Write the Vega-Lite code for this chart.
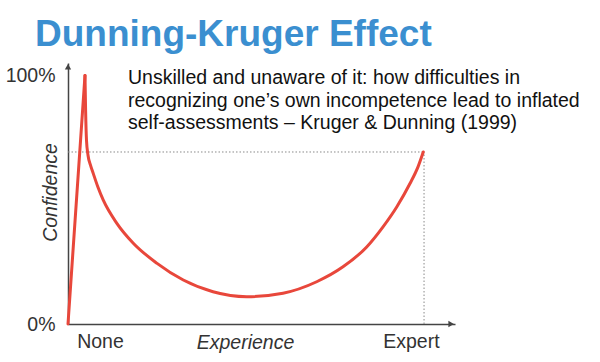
{
  "$schema": "https://vega.github.io/schema/vega-lite/v6.json",
  "width": 387,
  "height": 261,
  "autosize": {"type": "none"},
  "padding": {"left": 68, "top": 63, "right": 145, "bottom": 38},
  "background": "white",
  "config": {"view": {"stroke": null}, "font": "Liberation Sans"},
  "title": {
    "text": "Dunning-Kruger Effect",
    "font": "Liberation Sans",
    "fontSize": 37,
    "fontWeight": "bold",
    "color": "#3b8fd0",
    "anchor": "start",
    "frame": "group",
    "dx": -33,
    "dy": 37,
    "baseline": "alphabetic",
    "offset": 17
  },
  "datasets": {
    "rise": [
      {"exp": 0, "conf": 0},
      {"exp": 4.39, "conf": 100}
    ],
    "fall": [
      {"exp": 4.39, "conf": 100},
      {"exp": 4.55, "conf": 85.9},
      {"exp": 4.78, "conf": 73.9},
      {"exp": 5.17, "conf": 67.9},
      {"exp": 5.81, "conf": 63.9},
      {"exp": 6.54, "conf": 60.5},
      {"exp": 7.75, "conf": 55.0},
      {"exp": 9.12, "conf": 49.8},
      {"exp": 12.58, "conf": 40.6},
      {"exp": 16.87, "conf": 32.5},
      {"exp": 22.92, "conf": 24.5},
      {"exp": 29.79, "conf": 17.7},
      {"exp": 37.47, "conf": 13.0},
      {"exp": 46.18, "conf": 11.0},
      {"exp": 55.56, "conf": 12.4},
      {"exp": 64.26, "conf": 17.0},
      {"exp": 71.06, "conf": 23.0},
      {"exp": 77.18, "conf": 31.0},
      {"exp": 81.4, "conf": 39.1},
      {"exp": 84.94, "conf": 47.1},
      {"exp": 88.37, "conf": 56.5},
      {"exp": 90.44, "conf": 63.2},
      {"exp": 91.81, "conf": 69.2}
    ],
    "hguide": [{"x1": 0, "x2": 91.81, "y": 69.2}],
    "vguide": [{"x": 92.0, "y1": 0, "y2": 69.2}],
    "arrows": [
      {"ax": 99, "ay": 0, "shape": "triangle-right"},
      {"ax": 0, "ay": 103.5, "shape": "triangle-up"}
    ],
    "note": [
      {"nx": 15.5, "ny": 96.4, "txt": "Unskilled and unaware of it: how difficulties in\nrecognizing one’s own incompetence lead to inflated\nself-assessments – Kruger & Dunning (1999)"}
    ]
  },
  "layer": [
    {
      "data": {"name": "hguide"},
      "mark": {"type": "rule", "color": "#8a8a8a", "strokeDash": [1.5, 2], "strokeWidth": 1},
      "encoding": {
        "x": {"field": "x1", "type": "quantitative", "scale": {"domain": [0, 100], "nice": false},
          "axis": {
            "values": [8.27, 88.6],
            "labelExpr": "datum.value < 50 ? 'None' : 'Expert'",
            "ticks": false, "grid": false,
            "domainColor": "#444", "domainWidth": 1.5,
            "labelFont": "Liberation Sans", "labelFontSize": 19.5, "labelColor": "#333",
            "labelPadding": 8,
            "title": "Experience",
            "titleFont": "Liberation Sans", "titleFontSize": 19.5, "titleFontStyle": "italic",
            "titleFontWeight": "normal", "titleColor": "#333",
            "titleX": 177, "titleY": 24, "titleAlign": "center", "titleBaseline": "alphabetic"
          }
        },
        "x2": {"field": "x2"},
        "y": {"field": "y", "type": "quantitative", "scale": {"domain": [0, 105], "nice": false},
          "axis": {
            "values": [0, 100],
            "labelExpr": "datum.value == 0 ? '0%' : '100%'",
            "ticks": false, "grid": false,
            "domainColor": "#444", "domainWidth": 1.5,
            "labelFont": "Liberation Sans", "labelFontSize": 19.5, "labelColor": "#333",
            "labelPadding": 13, "labelBaseline": "middle",
            "title": "Confidence",
            "titleFont": "Liberation Sans", "titleFontSize": 19.5, "titleFontStyle": "italic",
            "titleFontWeight": "normal", "titleColor": "#333",
            "titleAngle": 270, "titleX": -12, "titleY": 129, "titleAlign": "center", "titleBaseline": "alphabetic"
          }
        }
      }
    },
    {
      "data": {"name": "vguide"},
      "mark": {"type": "rule", "color": "#8a8a8a", "strokeDash": [1.5, 2], "strokeWidth": 1},
      "encoding": {
        "x": {"field": "x", "type": "quantitative"},
        "y": {"field": "y1", "type": "quantitative"},
        "y2": {"field": "y2"}
      }
    },
    {
      "data": {"name": "rise"},
      "mark": {"type": "line", "color": "#e8473b", "strokeWidth": 3, "strokeJoin": "round", "strokeCap": "round"},
      "encoding": {
        "x": {"field": "exp", "type": "quantitative"},
        "y": {"field": "conf", "type": "quantitative"},
        "order": {"field": "exp", "type": "quantitative"}
      }
    },
    {
      "data": {"name": "fall"},
      "mark": {"type": "line", "color": "#e8473b", "strokeWidth": 3, "strokeJoin": "round", "strokeCap": "round", "interpolate": "monotone"},
      "encoding": {
        "x": {"field": "exp", "type": "quantitative"},
        "y": {"field": "conf", "type": "quantitative"},
        "order": {"field": "exp", "type": "quantitative"}
      }
    },
    {
      "data": {"name": "arrows"},
      "mark": {"type": "point", "filled": true, "color": "#444", "size": 40, "opacity": 1},
      "encoding": {
        "x": {"field": "ax", "type": "quantitative"},
        "y": {"field": "ay", "type": "quantitative"},
        "shape": {"field": "shape", "type": "nominal", "scale": null}
      }
    },
    {
      "data": {"name": "note"},
      "mark": {"type": "text", "align": "left", "baseline": "alphabetic", "lineBreak": "\n", "lineHeight": 22.3,
        "font": "Liberation Sans", "fontSize": 19.5, "color": "#111"},
      "encoding": {
        "x": {"field": "nx", "type": "quantitative"},
        "y": {"field": "ny", "type": "quantitative"},
        "text": {"field": "txt"}
      }
    }
  ]
}
